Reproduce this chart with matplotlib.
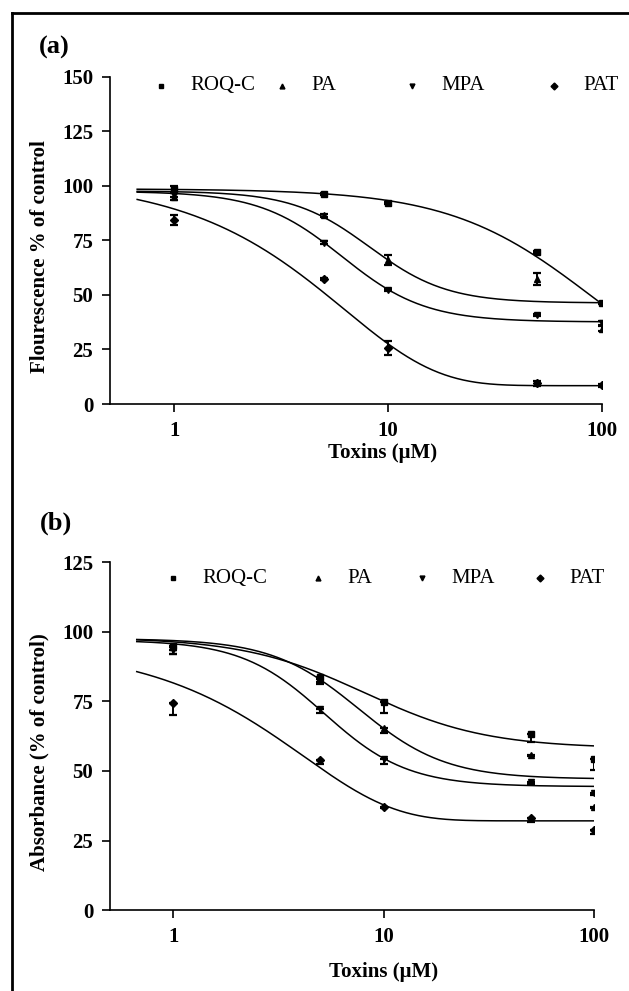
import numpy as np
import matplotlib.pyplot as plt
from matplotlib.lines import Line2D

plt.rcParams['font.family'] = ['Liberation Serif', 'DejaVu Serif']

# concentrations (uM)
dose = [1, 5, 10, 50, 100]
names = ['ROQ-C', 'PA', 'MPA', 'PAT']
markers = ['s', '^', 'v', 'D']
msizes = [4, 5, 5, 4]

# (a) fluorescence, % of control (mean, sem)
fl_mean = {
    'ROQ-C': [98.5, 96.3, 92.0, 69.5, 46.4],
    'PA':    [95.0, 86.4, 66.0, 57.3, 34.5],
    'MPA':   [96.0, 74.0, 52.4, 40.8, 37.2],
    'PAT':   [84.4, 57.4, 25.6, 9.5, 8.5],
}
fl_err = {
    'ROQ-C': [1.6, 0.5, 0.5, 0.5, 0.5],
    'PA':    [1.5, 0.5, 2.3, 2.7, 1.2],
    'MPA':   [1.0, 0.5, 0.5, 0.5, 0.8],
    'PAT':   [2.3, 0.5, 3.2, 1.2, 0.5],
}
# fitted curves: ('logistic', top, bottom, ec50, hill) or ('decay', y0, plateau, k)
fl_fit = {
    'ROQ-C': ('logistic', 98.6, 0.0, 90.0, 1.3),
    'PA':    ('logistic', 97.6, 46.3, 8.2, 2.4),
    'MPA':   ('logistic', 97.5, 37.6, 6.1, 2.24),
    'PAT':   ('decay', 103.4, 8.4, 0.16),
}

# (b) absorbance, % of control (mean, sem shown below the mean)
ab_mean = {
    'ROQ-C': [94.9, 83.6, 74.9, 63.3, 54.2],
    'PA':    [94.5, 83.0, 65.3, 55.7, 37.2],
    'MPA':   [93.4, 72.1, 54.2, 46.2, 42.0],
    'PAT':   [74.3, 54.0, 37.2, 33.3, 28.8],
}
ab_err = {
    'ROQ-C': [3.0, 2.5, 4.0, 3.0, 3.8],
    'PA':    [1.0, 1.0, 1.5, 0.5, 0.5],
    'MPA':   [1.5, 1.2, 1.7, 1.0, 0.5],
    'PAT':   [4.2, 1.5, 0.5, 1.5, 1.5],
}
ab_fit = {
    'ROQ-C': ('logistic', 98.0, 58.1, 8.1, 1.5),
    'PA':    ('logistic', 97.5, 47.1, 7.6, 2.1),
    'MPA':   ('logistic', 97.0, 44.4, 5.2, 2.2),
    'PAT':   ('decay', 95.0, 32.1, 0.24),
}


def model(x, p):
    if p[0] == 'logistic':
        _, top, bottom, ec50, hill = p
        return bottom + (top - bottom) / (1 + (x / ec50) ** hill)
    _, y0, plateau, k = p
    return plateau + (y0 - plateau) * np.exp(-k * x)


W, H = 629, 991
fig = plt.figure(figsize=(W / 100, H / 100), dpi=100)


def px_axes(l, r, t, b):
    return fig.add_axes([l / W, 1 - b / H, (r - l) / W, (b - t) / H])


def panel(ax, means, errs, fits, ymax, ylabel, lower_only, leg_x, leg_y, tag, tag_y):
    xs = np.logspace(np.log10(0.67), 2, 300)
    for name, m, ms in zip(names, markers, msizes):
        ax.plot(xs, model(xs, fits[name]), color='black', lw=1.1)
        e = np.array(errs[name])
        yerr = [e, np.zeros_like(e)] if lower_only else e
        ax.errorbar(dose, means[name], yerr=yerr, fmt=m, color='black',
                    ms=ms, elinewidth=1.4, capsize=3, capthick=1.6)
    ax.set_xscale('log')
    ax.set_xlim(0.5, 100)
    ax.set_ylim(0, ymax)
    ax.set_xticks([1, 10, 100])
    ax.set_xticklabels(['1', '10', '100'])
    ax.xaxis.set_minor_locator(plt.NullLocator())
    ax.set_yticks(np.arange(0, ymax + 1, 25))
    for s in ['top', 'right']:
        ax.spines[s].set_visible(False)
    for s in ['left', 'bottom']:
        ax.spines[s].set_linewidth(1.2)
    ax.tick_params(direction='out', length=6, width=1.2, labelsize=15, pad=6)
    for lab in ax.get_xticklabels() + ax.get_yticklabels():
        lab.set_fontweight('bold')
    ax.set_xlabel('Toxins (μM)', fontsize=15, fontweight='bold')
    ax.set_ylabel(ylabel, fontsize=15, fontweight='bold')
    # legend row
    for name, m, lx in zip(names, markers, leg_x):
        ax.plot([lx], [leg_y], m, color='black', ms=3.5,
                transform=ax.transAxes, clip_on=False)
        ax.text(lx + 0.06, leg_y, name, fontsize=15, va='center',
                transform=ax.transAxes)
    ax.text(-0.145, tag_y, tag, fontsize=19, fontweight='bold',
            transform=ax.transAxes, va='center')


ax_a = px_axes(110, 601.7, 76.7, 404)
panel(ax_a, fl_mean, fl_err, fl_fit, 150, 'Flourescence % of control', False,
      [0.104, 0.350, 0.614, 0.903], 0.972, '(a)', 1.09)
ax_a.xaxis.set_label_coords(0.555, -0.118)
ax_a.yaxis.set_label_coords(-0.122, 0.45)

ax_b = px_axes(110, 594.3, 562, 910.3)
panel(ax_b, ab_mean, ab_err, ab_fit, 125, 'Absorbance (% of control)', True,
      [0.130, 0.430, 0.644, 0.888], 0.954, '(b)', 1.11)
ax_b.xaxis.set_label_coords(0.565, -0.148)
ax_b.yaxis.set_label_coords(-0.124, 0.455)

# frame around the figure (left and top edges visible)
fig.add_artist(Line2D([12 / W, 12 / W], [0, 1 - 12.5 / H], color='black', lw=2))
fig.add_artist(Line2D([12 / W, 1], [1 - 12.5 / H, 1 - 12.5 / H], color='black', lw=2))

fig.savefig('out.png', dpi=100)
